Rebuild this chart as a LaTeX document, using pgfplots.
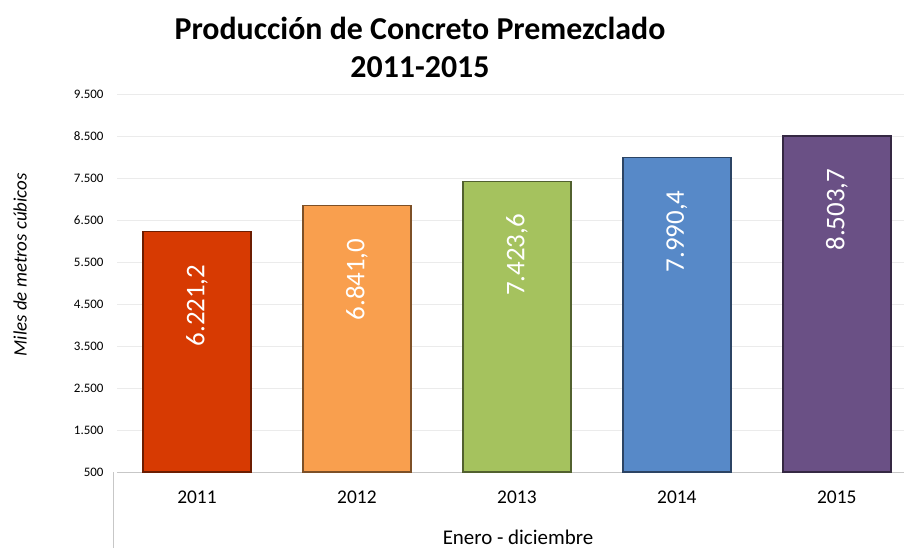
\documentclass[border=0pt]{standalone}
\usepackage{fontspec}
\setmainfont{Carlito}
\usepackage{pgfplots}
\pgfplotsset{compat=1.18}
\definecolor{c1}{HTML}{D73A02}
\definecolor{c2}{HTML}{F99F4E}
\definecolor{c3}{HTML}{A5C25E}
\definecolor{c4}{HTML}{5789C8}
\definecolor{c5}{HTML}{6A5085}
\begin{document}
\begin{tikzpicture}
\begin{axis}[
  at={(0,0)}, anchor=south west,
  scale only axis, width=787bp, height=378bp,
  xmin=-0.5, xmax=4.42, ymin=500, ymax=9500,
  ytick={500,1500,...,9500},
  xtick={0,1,2,3,4}, xticklabels={2011,2012,2013,2014,2015},
  scaled y ticks=false,
  /pgf/number format/assume math mode=true,
  /pgf/number format/use comma,
  /pgf/number format/1000 sep={.},
  axis lines*=left,
  y axis line style={draw=none},
  x axis line style={draw=black!22, line width=0.8bp},
  major tick length=0pt,
  ymajorgrids, grid style={draw=black!8, line width=0.8bp},
  yticklabel style={font=\fontsize{13}{15}\selectfont, xshift=-10bp},
  xticklabel style={font=\fontsize{19.5}{22}\selectfont, yshift=-15bp},
  xlabel={Enero - diciembre},
  xlabel style={font=\fontsize{21}{24}\selectfont, at={(axis description cs:0.5095,-0.172)}, anchor=center},
  ylabel={Miles de metros cúbicos},
  ylabel style={font=\fontsize{19}{22}\selectfont\itshape, at={(axis description cs:-0.123,0.548)}, anchor=center, rotate=0},
  title={Producción de Concreto Premezclado\\2011-2015},
  title style={font=\fontsize{32}{38}\selectfont\bfseries, align=center, at={(axis description cs:0.385,1.108)}, anchor=center},
  nodes near coords={\pgfmathprintnumber[fixed,fixed zerofill,precision=1,use comma,1000 sep={.}]{\pgfplotspointmeta}},
  every node near coord/.append style={yshift=-29bp, rotate=90, anchor=east, text=white, font=\fontsize{27}{30}\selectfont},
  clip=false,
]
\addplot[ybar, bar width=108bp, bar shift=0pt, fill=c1, draw=c1!50!black, line width=1.4bp] coordinates {(0,6221.2)};
\addplot[ybar, bar width=108bp, bar shift=0pt, fill=c2, draw=c2!50!black, line width=1.4bp] coordinates {(1,6841.0)};
\addplot[ybar, bar width=108bp, bar shift=0pt, fill=c3, draw=c3!50!black, line width=1.4bp] coordinates {(2,7423.6)};
\addplot[ybar, bar width=108bp, bar shift=0pt, fill=c4, draw=c4!50!black, line width=1.4bp] coordinates {(3,7990.4)};
\addplot[ybar, bar width=108bp, bar shift=0pt, fill=c5, draw=c5!50!black, line width=1.4bp] coordinates {(4,8503.7)};
\end{axis}
\draw[black!22, line width=0.8bp] (-4bp,0) -- (-4bp,-76bp);
\pgfresetboundingbox
\path (-117bp,-76bp) rectangle (787bp,472bp);
\end{tikzpicture}
\end{document}
